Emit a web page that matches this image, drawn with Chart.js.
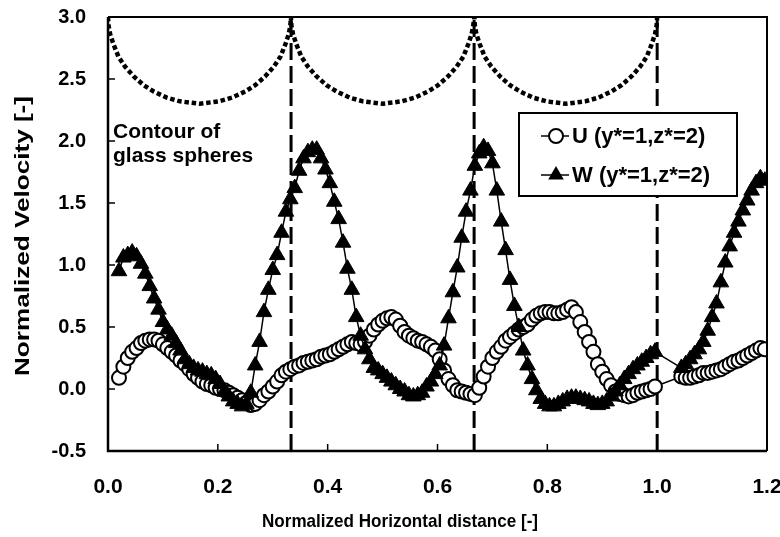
<!DOCTYPE html>
<html>
<head>
<meta charset="utf-8">
<script src="https://cdn.jsdelivr.net/npm/chart.js@4.4.1/dist/chart.umd.min.js"></script>
<style>
html,body{margin:0;padding:0;background:#fff;}
canvas{display:block;}
</style>
</head>
<body>
<canvas id="c" width="780" height="537"></canvas>
<script>
// ---- data ----
const xs = [
0.020,0.028,0.036,0.044,0.052,0.060,0.068,0.076,0.084,0.092,
0.100,0.108,0.116,0.124,0.132,0.140,0.148,0.156,0.164,0.172,
0.180,0.188,0.196,0.204,0.212,0.220,0.228,0.236,0.244,0.252,
0.260,0.268,0.276,0.284,0.292,0.300,0.308,0.316,0.324,0.332,
0.340,0.348,0.356,0.364,0.372,0.380,0.388,0.396,0.404,0.412,
0.420,0.428,0.436,0.444,0.452,0.460,0.468,0.476,0.484,0.492,
0.500,0.508,0.516,0.524,0.532,0.540,0.548,0.556,0.564,0.572,
0.580,0.588,0.596,0.604,0.612,0.620,0.628,0.636,0.644,0.652,
0.660,0.668,0.676,0.684,0.692,0.700,0.708,0.716,0.724,0.732,
0.740,0.748,0.756,0.764,0.772,0.780,0.788,0.796,0.804,0.812,
0.820,0.828,0.836,0.844,0.852,0.860,0.868,0.876,0.884,0.892,
0.900,0.908,0.916,0.924,0.932,0.940,0.948,0.956,0.964,0.972,
0.980,0.988,0.996,
1.044,1.052,1.060,1.068,1.076,1.084,1.092,1.100,1.108,1.116,
1.124,1.132,1.140,1.148,1.156,1.164,1.172,1.180,1.188,1.196];

const uValues = [
0.09,0.18,0.25,0.30,0.33,0.37,0.39,0.40,0.40,0.39,
0.36,0.33,0.30,0.27,0.23,0.20,0.16,0.12,0.09,0.06,
0.04,0.03,0.01,0.00,-0.01,-0.03,-0.05,-0.07,-0.09,-0.11,
-0.13,-0.12,-0.09,-0.05,-0.02,0.02,0.06,0.11,0.14,0.16,
0.18,0.19,0.21,0.22,0.23,0.24,0.26,0.27,0.28,0.30,
0.32,0.34,0.36,0.38,0.37,0.36,0.38,0.43,0.48,0.52,
0.55,0.57,0.58,0.56,0.51,0.46,0.43,0.41,0.39,0.38,
0.36,0.34,0.31,0.24,0.15,0.08,0.03,-0.01,-0.02,-0.03,
-0.04,-0.05,0.01,0.10,0.18,0.25,0.30,0.34,0.39,0.42,
0.45,0.48,0.50,0.52,0.56,0.59,0.61,0.62,0.62,0.61,
0.61,0.62,0.64,0.66,0.62,0.54,0.46,0.38,0.30,0.20,
0.14,0.08,0.03,-0.02,-0.04,-0.05,-0.06,-0.05,-0.03,-0.02,
-0.01,0.00,0.02,
0.10,0.09,0.09,0.10,0.11,0.13,0.13,0.14,0.15,0.16,
0.18,0.20,0.22,0.23,0.25,0.27,0.29,0.31,0.33,0.32];

const wValues = [
0.95,1.06,1.08,1.10,1.07,1.01,0.93,0.83,0.73,0.64,
0.54,0.48,0.43,0.37,0.31,0.24,0.20,0.17,0.15,0.14,
0.12,0.11,0.08,0.04,-0.02,-0.06,-0.10,-0.12,-0.14,-0.12,
-0.03,0.19,0.38,0.62,0.80,0.96,1.08,1.26,1.43,1.53,
1.62,1.76,1.86,1.91,1.93,1.93,1.86,1.77,1.66,1.51,
1.37,1.18,0.97,0.80,0.58,0.43,0.32,0.24,0.17,0.15,
0.12,0.09,0.06,0.03,0.00,-0.02,-0.05,-0.06,-0.05,-0.03,
0.02,0.06,0.12,0.19,0.35,0.57,0.78,0.98,1.22,1.43,
1.60,1.80,1.90,1.95,1.92,1.82,1.60,1.35,1.12,0.88,
0.67,0.50,0.31,0.19,0.08,-0.01,-0.08,-0.12,-0.14,-0.14,
-0.12,-0.10,-0.08,-0.07,-0.07,-0.08,-0.09,-0.10,-0.12,-0.13,
-0.12,-0.10,-0.06,-0.02,0.03,0.08,0.12,0.16,0.19,0.22,
0.25,0.28,0.30,
0.17,0.20,0.24,0.28,0.32,0.38,0.47,0.58,0.69,0.86,
1.02,1.15,1.26,1.35,1.44,1.52,1.60,1.66,1.70,1.68];

const contourX = [
0.000,0.001,0.004,0.010,0.019,0.031,0.047,0.065,0.083,0.107,0.131,0.167,0.202,0.226,0.250,0.268,0.286,0.302,0.314,0.323,0.329,0.332,0.333,
0.334,0.337,0.343,0.352,0.364,0.380,0.398,0.416,0.440,0.464,0.500,0.535,0.559,0.583,0.601,0.619,0.635,0.647,0.656,0.662,0.665,0.667,
0.668,0.671,0.677,0.686,0.698,0.714,0.732,0.750,0.774,0.798,0.834,0.869,0.893,0.917,0.935,0.953,0.969,0.981,0.990,0.996,0.999,1.000];
const contourY = [
3.00,2.93,2.86,2.78,2.68,2.60,2.52,2.45,2.40,2.35,2.32,2.30,2.32,2.35,2.40,2.45,2.52,2.60,2.68,2.78,2.86,2.93,3.00,
2.93,2.86,2.78,2.68,2.60,2.52,2.45,2.40,2.35,2.32,2.30,2.32,2.35,2.40,2.45,2.52,2.60,2.68,2.78,2.86,2.93,3.00,
2.93,2.86,2.78,2.68,2.60,2.52,2.45,2.40,2.35,2.32,2.30,2.32,2.35,2.40,2.45,2.52,2.60,2.68,2.78,2.86,2.93,3.00];

const sphereBoundaries = [1/3, 2/3, 1.0];
const xTicks = [0.0, 0.2, 0.4, 0.6, 0.8, 1.0, 1.2];
const yTicks = [-0.5, 0.0, 0.5, 1.0, 1.5, 2.0, 2.5, 3.0];
const seriesLabels = ['U (y*=1,z*=2)', 'W (y*=1,z*=2)'];
const xTitle = 'Normalized Horizontal distance [-]';
const yTitle = 'Normalized Velocity [-]';
const noteLines = ['Contour of', 'glass spheres'];

// ---- build datasets ----
const FONT = "'Liberation Sans', Arial, sans-serif";
const pts = (xa, ya) => xa.map((x, i) => ({x, y: ya[i]}));

const datasets = [];
sphereBoundaries.forEach(b => {
  datasets.push({
    data: [{x: b, y: yTicks[0]}, {x: b, y: yTicks[yTicks.length - 1]}],
    showLine: true, borderColor: '#000', borderWidth: 3, borderDash: [17, 6],
    pointRadius: 0, order: 5
  });
});
datasets.push({
  data: pts(contourX, contourY), showLine: true, borderColor: '#000',
  borderWidth: 4.5, borderDash: [4.5, 2.8], borderCapStyle: 'butt', pointRadius: 0, order: 4
});
datasets.push({
  label: seriesLabels[0], data: pts(xs, uValues), showLine: true,
  borderColor: '#000', borderWidth: 1.5, pointStyle: 'circle', pointRadius: 7,
  pointBorderWidth: 2, pointBackgroundColor: '#fff', pointBorderColor: '#000', order: 2
});
datasets.push({
  label: seriesLabels[1], data: pts(xs, wValues), showLine: true,
  borderColor: '#000', borderWidth: 1.5, pointStyle: 'triangle', pointRadius: 9,
  pointBorderWidth: 1, pointBackgroundColor: '#000', pointBorderColor: '#000', order: 1
});

function drawStretched(ctx, text, cx, cy, rot, size, target) {
  ctx.save();
  ctx.font = 'bold ' + size + 'px ' + FONT;
  const w = ctx.measureText(text).width;
  ctx.translate(cx, cy);
  ctx.rotate(rot);
  ctx.scale(target / w, 1);
  ctx.textAlign = 'center';
  ctx.textBaseline = 'middle';
  ctx.fillStyle = '#000';
  ctx.fillText(text, 0, 0);
  ctx.restore();
}

const decor = {
  id: 'decor',
  afterDatasetsDraw(chart) {
    const ctx = chart.ctx, a = chart.chartArea;
    const xs_ = chart.scales.x, ys_ = chart.scales.y;
    ctx.save();
    ctx.strokeStyle = '#000';
    // frame
    ctx.lineWidth = 2;
    ctx.beginPath();
    ctx.moveTo(a.left, a.top); ctx.lineTo(a.right, a.top); ctx.lineTo(a.right, a.bottom);
    ctx.stroke();
    ctx.lineWidth = 2.5;
    ctx.beginPath();
    ctx.moveTo(a.left, a.top); ctx.lineTo(a.left, a.bottom); ctx.lineTo(a.right, a.bottom);
    ctx.stroke();
    // inward ticks
    ctx.lineWidth = 1.5;
    ctx.beginPath();
    xTicks.forEach(v => { const p = xs_.getPixelForValue(v); ctx.moveTo(p, a.bottom); ctx.lineTo(p, a.bottom - 7); });
    yTicks.forEach(v => { const p = ys_.getPixelForValue(v); ctx.moveTo(a.left, p); ctx.lineTo(a.left + 7, p); });
    ctx.stroke();
    // axis titles
    drawStretched(ctx, xTitle, 400, 522, 0, 19, 276);
    drawStretched(ctx, yTitle, 23, 236, -Math.PI / 2, 20, 280);
    // note text
    ctx.fillStyle = '#000';
    ctx.font = 'bold 21px ' + FONT;
    ctx.textBaseline = 'alphabetic';
    ctx.textAlign = 'left';
    ctx.fillText(noteLines[0], a.left + 5, a.top + 121);
    ctx.fillText(noteLines[1], a.left + 5, a.top + 145);
    // legend box
    const lx = 519, ly = 113, lw = 218, lh = 83;
    ctx.fillStyle = '#fff';
    ctx.fillRect(lx, ly, lw, lh);
    ctx.lineWidth = 2;
    ctx.strokeRect(lx, ly, lw, lh);
    const rows = [ly + 23, ly + 62];
    ctx.font = 'bold 22px ' + FONT;
    ctx.textBaseline = 'middle';
    rows.forEach((ry, i) => {
      ctx.lineWidth = 1.5;
      ctx.beginPath(); ctx.moveTo(lx + 22, ry); ctx.lineTo(lx + 50, ry); ctx.stroke();
      const cx = lx + 37;
      if (i === 0) {
        ctx.lineWidth = 2;
        ctx.beginPath(); ctx.arc(cx, ry, 7, 0, Math.PI * 2);
        ctx.fillStyle = '#fff'; ctx.fill(); ctx.stroke();
      } else {
        const r = 9;
        ctx.beginPath();
        ctx.moveTo(cx, ry - r);
        ctx.lineTo(cx + r * Math.sin(2 * Math.PI / 3), ry - r * Math.cos(2 * Math.PI / 3));
        ctx.lineTo(cx + r * Math.sin(4 * Math.PI / 3), ry - r * Math.cos(4 * Math.PI / 3));
        ctx.closePath();
        ctx.fillStyle = '#000'; ctx.fill();
      }
      ctx.fillStyle = '#000';
      ctx.fillText(seriesLabels[i], lx + 53, ry + 1);
    });
    ctx.restore();
  }
};

const zeroPad = s => { s.paddingLeft = 0; s.paddingRight = 0; s.paddingTop = 0; s.paddingBottom = 0; };

new Chart(document.getElementById('c'), {
  type: 'scatter',
  data: { datasets },
  plugins: [decor],
  options: {
    responsive: false, animation: false, devicePixelRatio: 1,
    layout: { padding: { top: 17, right: 13, left: 0, bottom: 0 } },
    plugins: { legend: { display: false }, tooltip: { enabled: false } },
    scales: {
      x: {
        type: 'linear', min: 0, max: 1.2,
        afterBuildTicks: s => { s.ticks = xTicks.map(v => ({value: v})); },
        afterFit: s => { s.height = 86; zeroPad(s); },
        ticks: { callback: v => Number(v).toFixed(1), color: '#000', padding: 24,
                 font: { family: FONT, size: 21, weight: 'bold' }, maxRotation: 0 },
        grid: { drawOnChartArea: false, drawTicks: false },
        border: { display: false },
        title: { display: false }
      },
      y: {
        type: 'linear', min: -0.5, max: 3.0,
        afterBuildTicks: s => { s.ticks = yTicks.map(v => ({value: v})); },
        afterFit: s => { s.width = 108; zeroPad(s); },
        ticks: { callback: v => Number(v).toFixed(1), color: '#000', padding: 22,
                 font: { family: FONT, size: 20, weight: 'bold' } },
        grid: { drawOnChartArea: false, drawTicks: false },
        border: { display: false },
        title: { display: false }
      }
    }
  }
});
</script>
</body>
</html>
